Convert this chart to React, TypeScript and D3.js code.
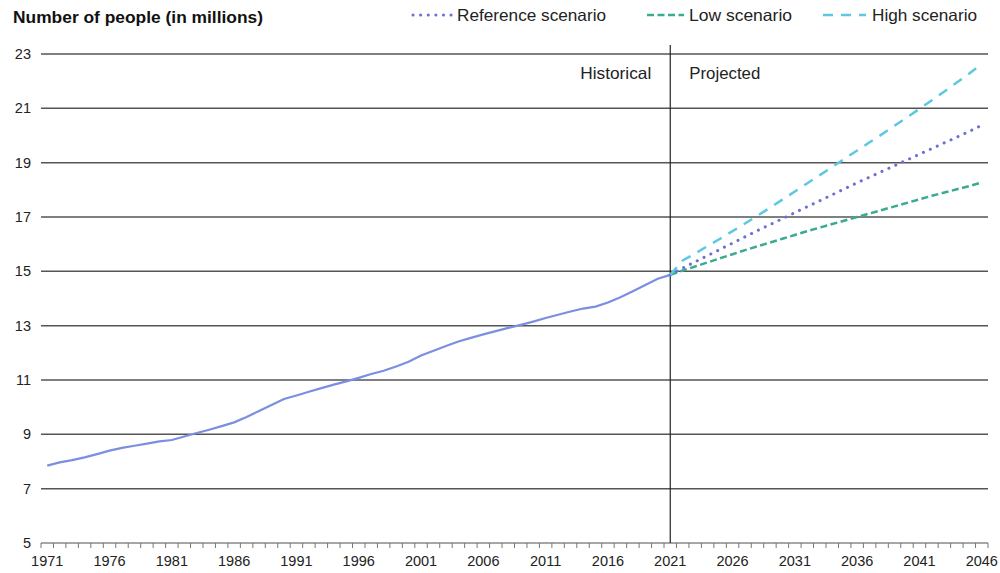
import React from "react";
import * as d3 from "d3";

const histYears: number[] = d3.range(1971, 2022);
const histValues: number[] = [
  7.85, 7.97, 8.05, 8.15, 8.27, 8.4, 8.5, 8.58, 8.66, 8.74,
  8.79, 8.92, 9.05, 9.17, 9.3, 9.44, 9.64, 9.86, 10.08, 10.3,
  10.43, 10.57, 10.7, 10.83, 10.95, 11.08, 11.22, 11.34, 11.5, 11.67,
  11.9, 12.08, 12.25, 12.42, 12.55, 12.68, 12.8, 12.92, 13.03, 13.15,
  13.28, 13.4, 13.52, 13.63, 13.7, 13.85, 14.05, 14.27, 14.5, 14.73,
  14.87,
];
const projYears: number[] = d3.range(2021, 2047);
const refValues: number[] = [
  14.87, 15.12, 15.35, 15.58, 15.81, 16.04, 16.27, 16.5, 16.72, 16.94,
  17.16, 17.38, 17.6, 17.82, 18.04, 18.26, 18.47, 18.68, 18.89, 19.1,
  19.31, 19.52, 19.73, 19.94, 20.15, 20.38,
];
const lowValues: number[] = [
  14.87, 15.03, 15.18, 15.33, 15.48, 15.63, 15.78, 15.92, 16.06, 16.2,
  16.34, 16.48, 16.61, 16.74, 16.87, 17.0, 17.13, 17.26, 17.39, 17.52,
  17.65, 17.78, 17.9, 18.02, 18.14, 18.27,
];
const highValues: number[] = [
  14.87, 15.4, 15.66, 15.93, 16.2, 16.48, 16.76, 17.05, 17.34, 17.64,
  17.94, 18.24, 18.54, 18.84, 19.15, 19.45, 19.75, 20.05, 20.36, 20.67,
  20.98, 21.3, 21.62, 21.95, 22.28, 22.64,
];
const yTicks: number[] = [5, 7, 9, 11, 13, 15, 17, 19, 21, 23];
const xLabelYears: number[] = d3.range(1971, 2047, 5);
const splitYear = 2021;

const W = 1000;
const H = 573;
const FONT = "'Liberation Sans', Arial, sans-serif";

const COL_HIST = "#7b8fe0";
const COL_REF = "#6c6fd4";
const COL_LOW = "#3aab90";
const COL_HIGH = "#5cc8e2";

export default function App() {
  const x = d3.scaleLinear().domain([1970.5, 2046.5]).range([41, 988]);
  const y = d3.scaleLinear().domain([5, 23]).range([543, 54]);
  const line = d3
    .line<[number, number]>()
    .x((d) => x(d[0]))
    .y((d) => y(d[1]));
  const pairs = (ys: number[], vs: number[]) =>
    ys.map((yr, i) => [yr, vs[i]] as [number, number]);
  const tickYears = d3.range(1970.5, 2047.5, 1);

  return (
    <svg
      width={W}
      height={H}
      style={{ position: "absolute", left: 0, top: 0, background: "#fff" }}
      fontFamily={FONT}
    >
      <text x={13} y={23} fontSize={16.5} fontWeight="bold" fill="#111" textLength={250} lengthAdjust="spacingAndGlyphs">
        Number of people (in millions)
      </text>

      {/* legend */}
      <g fontSize={16.5} fill="#222">
        <line x1={413} x2={452} y1={15} y2={15} stroke={COL_REF} strokeWidth={3} strokeDasharray="0.1,7.5" strokeLinecap="round" />
        <text x={457} y={21} textLength={149} lengthAdjust="spacingAndGlyphs">Reference scenario</text>
        <line x1={647} x2={684} y1={15} y2={15} stroke={COL_LOW} strokeWidth={2.5} strokeDasharray="7,3.5" />
        <text x={689} y={21} textLength={103} lengthAdjust="spacingAndGlyphs">Low scenario</text>
        <line x1={823} x2={866} y1={15} y2={15} stroke={COL_HIGH} strokeWidth={2.5} strokeDasharray="10,8" />
        <text x={872} y={21} textLength={105} lengthAdjust="spacingAndGlyphs">High scenario</text>
      </g>

      {/* gridlines */}
      {yTicks.map((t) => (
        <g key={t}>
          <line x1={41} x2={988} y1={y(t)} y2={y(t)} stroke={t === 5 ? "#888" : "#555"} strokeWidth={1.5} />
          <text x={31} y={y(t) + 5} fontSize={14.5} textAnchor="end" fill="#222">
            {t}
          </text>
        </g>
      ))}

      {/* x ticks */}
      {tickYears.map((t) => (
        <line key={t} x1={x(t)} x2={x(t)} y1={543} y2={548} stroke="#777" strokeWidth={1} />
      ))}
      {xLabelYears.map((yr) => (
        <text key={yr} x={x(yr)} y={566} fontSize={14.5} textAnchor="middle" fill="#222">
          {yr}
        </text>
      ))}

      {/* split line */}
      <line x1={x(splitYear)} x2={x(splitYear)} y1={45} y2={543} stroke="#222" strokeWidth={1.2} />
      <text x={x(splitYear) - 90} y={79} fontSize={16.5} fill="#222" textLength={71} lengthAdjust="spacingAndGlyphs">
        Historical
      </text>
      <text x={x(splitYear) + 19} y={79} fontSize={16.5} fill="#222" textLength={71} lengthAdjust="spacingAndGlyphs">
        Projected
      </text>

      {/* series */}
      <path d={line(pairs(histYears, histValues)) || ""} fill="none" stroke={COL_HIST} strokeWidth={2.2} />
      <path d={line(pairs(projYears, lowValues)) || ""} fill="none" stroke={COL_LOW} strokeWidth={2.5} strokeDasharray="7,3.5" />
      <path d={line(pairs(projYears, refValues)) || ""} fill="none" stroke={COL_REF} strokeWidth={3} strokeDasharray="0.1,7.5" strokeLinecap="round" />
      <path d={line(pairs(projYears, highValues)) || ""} fill="none" stroke={COL_HIGH} strokeWidth={2.5} strokeDasharray="10,8" />
    </svg>
  );
}
